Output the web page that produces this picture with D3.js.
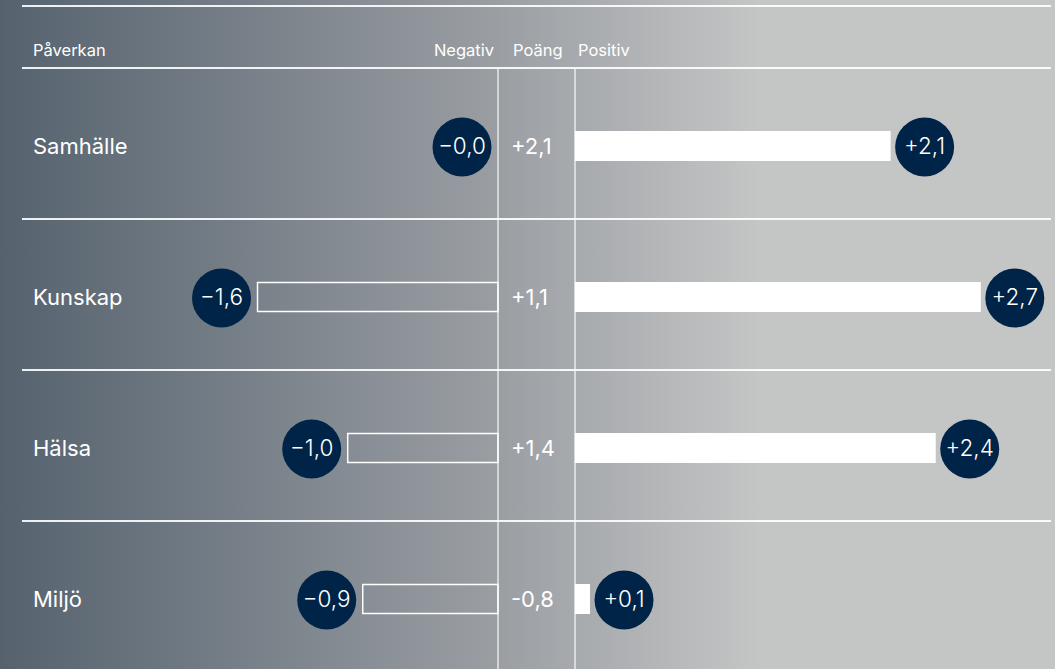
<!DOCTYPE html>
<html>
<head>
<meta charset="utf-8">
<script src="https://d3js.org/d3.v7.min.js"></script>
<style>
  body { margin: 0; overflow: hidden; }
  svg { display: block; font-family: Inter, "Noto Sans", sans-serif; }
</style>
</head>
<body>
<svg width="1055" height="669"></svg>
<script>
// data
var categories = ["Samhälle", "Kunskap", "Hälsa", "Miljö"];
var negative = [-0.0, -1.6, -1.0, -0.9];
var positive = [2.1, 2.7, 2.4, 0.1];
var score = [2.1, 1.1, 1.4, -0.8];
var headers = ["Påverkan", "Negativ", "Poäng", "Positiv"];

var svg = d3.select("svg"),
    width = +svg.attr("width"),
    height = +svg.attr("height");

var negZero = 498, posZero = 575, unit = 150.3;

var xNeg = d3.scaleLinear().domain([0, -3]).range([negZero, negZero - 3 * unit]);
var xPos = d3.scaleLinear().domain([0, 3]).range([posZero, posZero + 3 * unit]);
var y = d3.scaleBand().domain(categories).range([68, 68 + 151 * 4]);

function fmt(v) { return v.toFixed(1).replace(".", ","); }

// background gradient
var grad = svg.append("defs").append("linearGradient")
    .attr("id", "bg").attr("x1", 0).attr("x2", 1).attr("y1", 0).attr("y2", 0);
grad.append("stop").attr("offset", "0").attr("stop-color", "#55626e");
grad.append("stop").attr("offset", "0.47").attr("stop-color", "#9a9ea3");
grad.append("stop").attr("offset", "0.72").attr("stop-color", "#c4c5c5");
grad.append("stop").attr("offset", "1").attr("stop-color", "#c4c5c5");

svg.append("rect").attr("width", width).attr("height", height).attr("fill", "url(#bg)");

// horizontal rules
var rules = [6].concat(categories.map(function(c) { return y(c); }));
svg.selectAll(".rule")
  .data(rules)
  .enter().append("line")
    .attr("x1", 22).attr("x2", 1051)
    .attr("y1", function(d) { return d; }).attr("y2", function(d) { return d; })
    .attr("stroke", "#fff").attr("stroke-opacity", 0.9).attr("stroke-width", 2);

// vertical rules
svg.selectAll(".vrule")
  .data([negZero, posZero])
  .enter().append("line")
    .attr("x1", function(d) { return d; }).attr("x2", function(d) { return d; })
    .attr("y1", 68).attr("y2", height)
    .attr("stroke", "#fff").attr("stroke-opacity", 0.75).attr("stroke-width", 1.5);

// header
var hx = [{t: headers[0], x: 33, a: "start"}, {t: headers[1], x: 494, a: "end"},
          {t: headers[2], x: 513, a: "start"}, {t: headers[3], x: 578, a: "start"}];
svg.selectAll(".head")
  .data(hx)
  .enter().append("text")
    .attr("x", function(d) { return d.x; }).attr("y", 56)
    .attr("text-anchor", function(d) { return d.a; })
    .attr("fill", "#fff").attr("font-size", 16.5)
    .text(function(d) { return d.t; });

var rows = categories.map(function(c, i) {
  return {cat: c, neg: negative[i], pos: positive[i], score: score[i], cy: y(c) + 78};
});

var g = svg.selectAll(".row").data(rows).enter().append("g");

g.append("text")
    .attr("x", 33).attr("y", function(d) { return d.cy; }).attr("dy", "0.35em")
    .attr("fill", "#fff").attr("font-size", 22)
    .text(function(d) { return d.cat; });

g.append("text")
    .attr("x", 511).attr("y", function(d) { return d.cy; }).attr("dy", "0.35em")
    .attr("fill", "#fff").attr("font-size", 22)
    .text(function(d) { return (d.score >= 0 ? "+" : "-") + fmt(Math.abs(d.score)); });

// negative bars (outlined)
g.filter(function(d) { return d.neg < 0; }).append("rect")
    .attr("x", function(d) { return xNeg(d.neg); })
    .attr("y", function(d) { return d.cy - 14.5; })
    .attr("width", function(d) { return negZero - xNeg(d.neg); })
    .attr("height", 29)
    .attr("fill", "none").attr("stroke", "#fff").attr("stroke-width", 1.5);

// positive bars (filled)
g.append("rect")
    .attr("x", posZero)
    .attr("y", function(d) { return d.cy - 15; })
    .attr("width", function(d) { return xPos(d.pos) - posZero; })
    .attr("height", 30)
    .attr("fill", "#fff");

// value bubbles
var r = 29.5;
g.append("circle")
    .attr("cx", function(d) { return xNeg(d.neg) - 36; })
    .attr("cy", function(d) { return d.cy + 1; })
    .attr("r", r).attr("fill", "#002447");
g.append("text")
    .attr("x", function(d) { return xNeg(d.neg) - 36; })
    .attr("y", function(d) { return d.cy; }).attr("dy", "0.35em")
    .attr("text-anchor", "middle").attr("fill", "#fff")
    .attr("font-size", 22.5).attr("font-weight", 300)
    .text(function(d) { return "\u2212" + fmt(Math.abs(d.neg)); });

g.append("circle")
    .attr("cx", function(d) { return xPos(d.pos) + 34; })
    .attr("cy", function(d) { return d.cy + 1; })
    .attr("r", r).attr("fill", "#002447");
g.append("text")
    .attr("x", function(d) { return xPos(d.pos) + 34; })
    .attr("y", function(d) { return d.cy; }).attr("dy", "0.35em")
    .attr("text-anchor", "middle").attr("fill", "#fff")
    .attr("font-size", 22.5).attr("font-weight", 300)
    .text(function(d) { return "+" + fmt(d.pos); });
</script>
</body>
</html>
